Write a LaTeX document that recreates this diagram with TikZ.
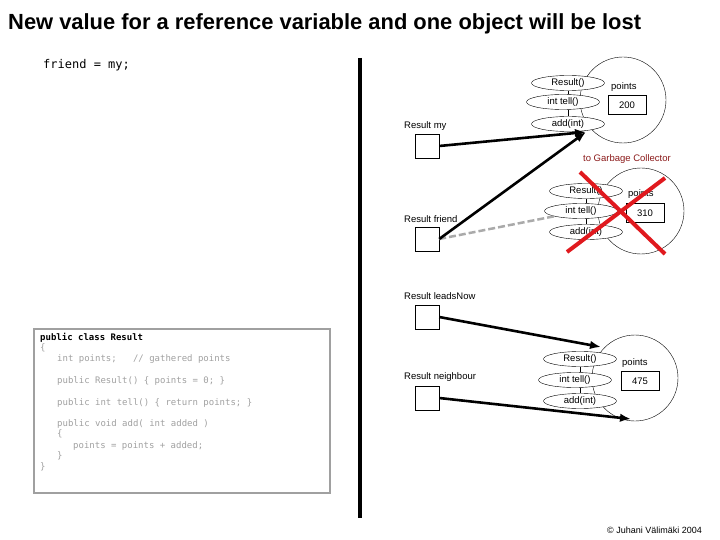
\documentclass[tikz,border=0pt]{standalone}
\usepackage{fontspec}
\setmainfont{Liberation Sans}
\setmonofont{DejaVu Sans Mono}
\usetikzlibrary{shapes.geometric,arrows.meta,calc}
\definecolor{gcol}{HTML}{8B1A1A}
\definecolor{codegray}{HTML}{A0A0A0}
\definecolor{xred}{HTML}{E0191E}
\definecolor{oldgray}{HTML}{AAAAAA}
\begin{document}
\begin{tikzpicture}[x=1pt,y=-1pt,
 lbl/.style={font=\fontsize{9.5}{11}\selectfont, anchor=west, inner sep=0},
 meth/.style={ellipse, draw, fill=white, minimum width=73pt, minimum height=15pt, inner sep=0, font=\fontsize{9.5}{11}\selectfont},
 val/.style={draw, fill=white, minimum width=38pt, minimum height=19pt, inner sep=0, font=\fontsize{9.5}{11}\selectfont},
 refbox/.style={draw, minimum size=24pt, inner sep=0},
 obj/.style={circle, draw, minimum size=86pt, inner sep=0},
 ptr/.style={line width=2.6pt, -{Latex[length=11pt,width=8.5pt]}},
 old/.style={line width=2.5pt, dash pattern=on 7pt off 3pt, draw=oldgray},
 link/.style={draw, line width=0.5pt},
 codeline/.style={font=\fontsize{9}{10}\selectfont\ttfamily, text=codegray, anchor=west, inner sep=0},
 cross/.style={line width=4pt, draw=xred},
]
\useasboundingbox (0,0) rectangle (720,540);
% title
\node[anchor=west, inner sep=0, font=\fontsize{21.9}{24}\selectfont\bfseries] (title) at (8,24) {New value for a reference variable and one object will be lost};
\node[anchor=west, inner sep=0, font=\fontsize{12}{14}\selectfont\ttfamily] (stmt) at (43,65) {friend = my;};
% divider
\coordinate (divtop) at (360,58);
\coordinate (divbot) at (360,518);
\draw[line width=4pt] (divtop) -- (divbot);

% ---------- object 1
\node[obj] (o1) at (623,100) {};
\node[meth] (r1) at (568,83) {Result()};
\node[meth] (t1) at (563,102) {int tell()};
\node[meth] (a1) at (568,124) {add(int)};
\draw[link] (r1.south) -- (r1.south |- t1.north);
\draw[link] (r1.south |- t1.south) -- (r1.south |- a1.north);
\node[lbl] (p1) at (611,87) {points};
\node[val] (v1) at (627,105) {200};

% ---------- object 2 (lost)
\node[obj] (o2) at (641,211) {};
\node[meth] (r2) at (586,191) {Result()};
\node[meth] (t2) at (581,211) {int tell()};
\node[meth] (a2) at (586,232) {add(int)};
\draw[link] (r2.south) -- (r2.south |- t2.north);
\draw[link] (r2.south |- t2.south) -- (r2.south |- a2.north);
\node[lbl] (p2) at (628,194) {points};
\node[val] (v2) at (645,213) {310};
\node[font=\fontsize{9.5}{11}\selectfont, text=gcol, inner sep=0] (gc) at (627,159) {to Garbage Collector};

% ---------- object 3
\node[obj] (o3) at (635,378) {};
\node[meth] (r3) at (580,359) {Result()};
\node[meth] (t3) at (575,380) {int tell()};
\node[meth] (a3) at (580,401) {add(int)};
\draw[link] (r3.south) -- (r3.south |- t3.north);
\draw[link] (r3.south |- t3.south) -- (r3.south |- a3.north);
\node[lbl] (p3) at (622,363) {points};
\node[val] (v3) at (640,381) {475};

% ---------- reference variables
\node[lbl] (lmy) at (404,126) {Result my};
\node[refbox] (my) at (427,146) {};
\node[lbl] (lfr) at (404,219) {Result friend};
\node[refbox] (fr) at (427,239) {};
\node[lbl] (lln) at (404,296) {Result leadsNow};
\node[refbox] (ln) at (427,317) {};
\node[lbl] (lnb) at (404,377) {Result neighbour};
\node[refbox] (nb) at (427,398) {};

% ---------- pointers
\coordinate (hit1) at (586,132);
\coordinate (hit3a) at (601,347);
\coordinate (hit3b) at (631,419);
\draw[old] (fr.east) -- (t2);
\draw[ptr] (my.east) -- (hit1);
\draw[ptr] (fr.east) -- (hit1);
\draw[ptr] (ln.east) -- (hit3a);
\draw[ptr] (nb.east) -- (hit3b);

% ---------- red cross
\coordinate (xa) at (580,172);
\coordinate (xb) at (665,254);
\coordinate (xc) at (665,178);
\coordinate (xd) at (567,252);
\draw[cross] (xa) -- (xb);
\draw[cross] (xc) -- (xd);

% ---------- code box
\node[draw=codegray, line width=1.2pt, minimum width=296pt, minimum height=164pt, inner sep=0] (code) at (182,411) {};
\node[codeline, text=black, font=\fontsize{9}{10}\selectfont\ttfamily\bfseries] (c0) at (40,338) {public class Result};
\node[codeline] (c1) at (40,348) {\{};
\node[codeline] (c2) at (57,359) {int points;\ \ \ // gathered points};
\node[codeline] (c3) at (57,381) {public Result() \{ points = 0; \}};
\node[codeline] (c4) at (57,403) {public int tell() \{ return points; \}};
\node[codeline] (c5) at (57,424) {public void add( int added )};
\node[codeline] (c6) at (57,434) {\{};
\node[codeline] (c7) at (73,446) {points = points + added;};
\node[codeline] (c8) at (57,456) {\}};
\node[codeline] (c9) at (40,467) {\}};

% ---------- copyright
\node[anchor=west, inner sep=0, font=\fontsize{9}{10}\selectfont] (copy) at (607,530) {© Juhani Välimäki 2004};
\end{tikzpicture}
\end{document}
